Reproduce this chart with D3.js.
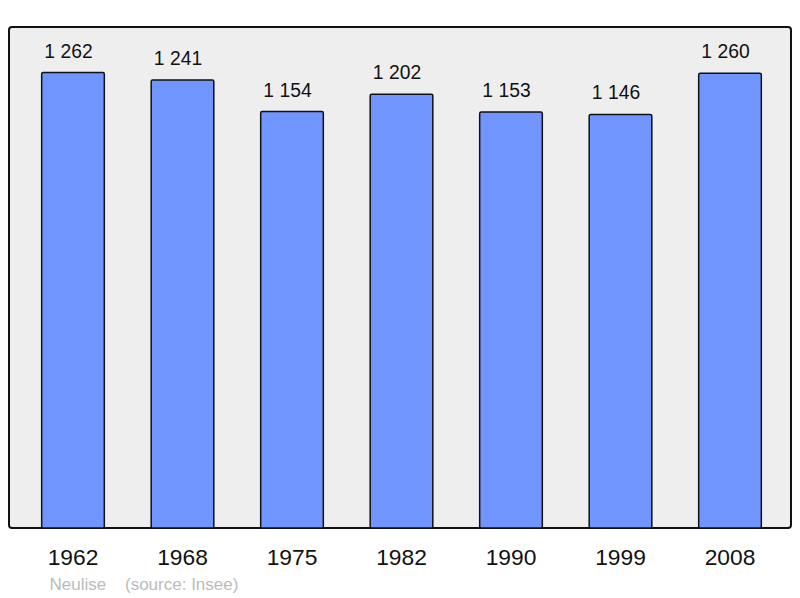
<!DOCTYPE html>
<html><head><meta charset="utf-8">
<script src="https://cdn.jsdelivr.net/npm/d3@7"></script>
<style>body{margin:0;background:#fff}svg{display:block}</style>
</head><body>
<script>
const years = ["1962","1968","1975","1982","1990","1999","2008"];
const population = [1262,1241,1154,1202,1153,1146,1260];
const placeName = "Neulise";
const sourceText = "(source: Insee)";

const W = 800, H = 598;
const frame = {x:9, y:27, w:782, h:501};
const svg = d3.select("body").append("svg").attr("width",W).attr("height",H);

svg.append("rect").attr("x",frame.x).attr("y",frame.y).attr("width",frame.w).attr("height",frame.h)
  .attr("rx",3).attr("fill","#eeeeee").attr("stroke","#111").attr("stroke-width",2);

const x = d3.scaleBand().domain(years).range([18.25, 784.75]).paddingInner(0.428).paddingOuter(0.214);
const y = d3.scaleLinear().domain([0, d3.max(population)*1.1]).range([frame.y+frame.h, frame.y]);

const fmt = v => { const s = String(v); return s.length>3 ? s.slice(0,-3)+" "+s.slice(-3) : s; };

const g = svg.append("g");
g.selectAll("rect.bar").data(years).join("rect").attr("class","bar")
  .attr("x", d=>x(d)).attr("width", x.bandwidth())
  .attr("y", (d,i)=>y(population[i])).attr("height",(d,i)=>y(0)-y(population[i]))
  .attr("rx",1.5).attr("fill","#7095ff").attr("stroke","#111").attr("stroke-width",1.5);

g.selectAll("text.val").data(years).join("text").attr("class","val")
  .attr("x", d=>x(d)+x.bandwidth()/2-4.5).attr("y",(d,i)=>y(population[i])-15)
  .attr("text-anchor","middle").attr("font-family","Liberation Sans, Arial, sans-serif")
  .attr("font-size",19.3).attr("fill","#111").text((d,i)=>fmt(population[i]));

g.selectAll("text.year").data(years).join("text").attr("class","year")
  .attr("x", d=>x(d)+x.bandwidth()/2).attr("y",565)
  .attr("text-anchor","middle").attr("font-family","Liberation Sans, Arial, sans-serif")
  .attr("font-size",22.8).attr("fill","#111").text(d=>d);

svg.append("text").attr("x",49.5).attr("y",589.5).attr("font-family","Liberation Sans, Arial, sans-serif")
  .attr("font-size",17).attr("fill","#bbbbbb").text(placeName);
svg.append("text").attr("x",125).attr("y",589.5).attr("font-family","Liberation Sans, Arial, sans-serif")
  .attr("font-size",17).attr("fill","#bbbbbb").text(sourceText);
</script>
</body></html>
